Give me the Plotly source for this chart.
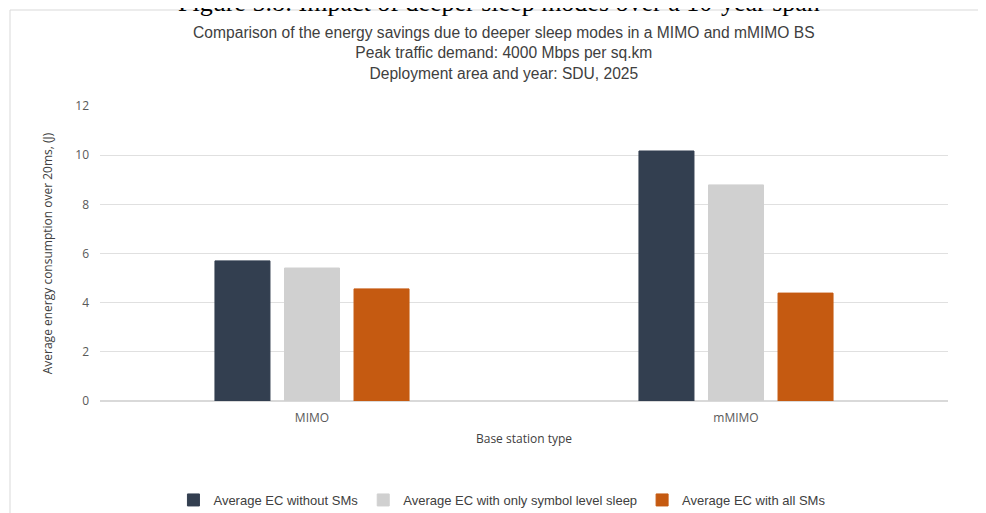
import plotly.graph_objects as go

categories = ["MIMO", "mMIMO"]
no_sm = [5.70, 10.17]
symbol_sleep = [5.41, 8.79]
all_sm = [4.56, 4.39]

series = [
    ("Average EC without SMs", no_sm, "#333f50"),
    ("Average EC with only symbol level sleep", symbol_sleep, "#d0d0d0"),
    ("Average EC with all SMs", all_sm, "#c55a11"),
]

fig = go.Figure()
for name, vals, col in series:
    fig.add_trace(go.Bar(x=categories, y=vals, name=name, marker_color=col,
                         marker_line=dict(width=1, color=col)))

font_text = "Liberation Sans, Arial, sans-serif"
font_ticks = "Open Sans, DejaVu Sans, sans-serif"

# the page body adds an 8px offset, so the figure is 8px smaller than the window
fig.update_layout(
    width=978, height=505,
    margin=dict(l=92, r=38, t=98, b=112),
    paper_bgcolor="white", plot_bgcolor="white",
    barmode="group", bargap=0.508, bargroupgap=0.209,
    title=dict(
        text="Comparison of the energy savings due to deeper sleep modes in a MIMO and mMIMO BS"
             "<br>Peak traffic demand: 4000 Mbps per sq.km<br>Deployment area and year: SDU, 2025",
        x=0.507, xanchor="center", yref="container", y=1 - 30 / 505, yanchor="middle",
        font=dict(family=font_text, size=15.6, color="#404040"),
    ),
    showlegend=True,
    legend=dict(orientation="h", x=0.474, xanchor="center",
                yref="container", y=1 - 492 / 505, yanchor="middle",
                font=dict(family=font_text, size=13, color="#404040"),
                itemwidth=30, tracegroupgap=0),
)
fig.update_xaxes(
    automargin=False,
    title=dict(text="Base station type", standoff=9,
               font=dict(family=font_ticks, size=12, color="#404040")),
    tickfont=dict(family=font_ticks, size=12, color="#595959"),
    ticklabelstandoff=6,
    showline=True, linecolor="#d9d9d9", ticks="",
)
fig.update_yaxes(
    automargin=True,
    range=[0, 12], dtick=2,
    title=dict(text="Average energy consumption over 20ms, (J)", standoff=20,
               font=dict(family=font_ticks, size=12, color="#404040")),
    tickfont=dict(family=font_ticks, size=12, color="#595959"),
    ticklabelstandoff=10,
    gridcolor="#e0e0e0", zeroline=True, zerolinecolor="#d9d9d9",
)

# figure caption, cut off at the top of the page
fig.add_annotation(
    text="Figure 5.8: Impact of deeper sleep modes over a 10-year span",
    xref="paper", yref="paper", x=0.47, y=(393 + 6) / 295, yanchor="middle",
    showarrow=False, font=dict(family="Liberation Serif, Times New Roman, serif", size=26, color="black"),
)
# chart border
fig.add_shape(type="rect", xref="paper", yref="paper",
              x0=-90 / 848, x1=(978 - 92 + 5) / 848, y0=-0.5, y1=(393 - 2) / 295,
              line=dict(color="#d9d9d9", width=1), fillcolor="rgba(0,0,0,0)", layer="below")

fig.write_html("out.html")
